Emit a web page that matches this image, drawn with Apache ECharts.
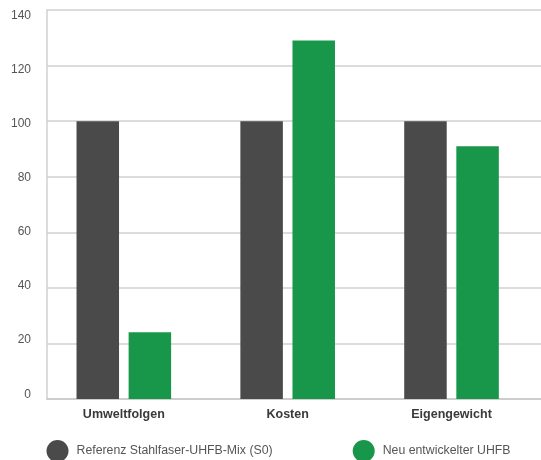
<!DOCTYPE html>
<html>
<head>
<meta charset="utf-8">
<style>
html,body{margin:0;padding:0;background:#fff;}
#chart{width:541px;height:460px;}
</style>
<script src="https://cdn.jsdelivr.net/npm/echarts@6/dist/echarts.min.js"></script>
</head>
<body>
<div id="chart"></div>
<script>
const categories = ['Umweltfolgen', 'Kosten', 'Eigengewicht'];
const seriesNames = ['Referenz Stahlfaser-UHFB-Mix (S0)', 'Neu entwickelter UHFB'];
const referenzValues = [100, 100, 100];
const neuValues = [24, 129, 91];
const yTicks = { min: 0, max: 140, interval: 20 };

const FONT = "'Liberation Sans', Arial, Helvetica, sans-serif";
const DARK = '#4a4a4a';
const GREEN = '#18974a';
const LINE = '#d0d0d0';

const chart = echarts.init(document.getElementById('chart'), null, { renderer: 'canvas' });

const hiddenX = (gi) => ({ type: 'category', gridIndex: gi, data: categories, show: false });

chart.setOption({
  animation: false,
  backgroundColor: '#ffffff',
  textStyle: { fontFamily: FONT },
  grid: [
    { left: 47, right: 0, top: 10, bottom: 61 },        // lines
    { left: 41.9, right: 7.55, top: 10, bottom: 61 },   // bars
    { left: 47, right: 0, top: 15.3, bottom: 65.7 }     // y labels
  ],
  xAxis: [
    {
      type: 'category', gridIndex: 0, data: categories,
      axisLine: { show: true, lineStyle: { color: '#c8c8c8', width: 1.5 } },
      axisTick: { show: false }, axisLabel: { show: false }, splitLine: { show: false }
    },
    {
      type: 'category', gridIndex: 1, data: categories,
      axisLine: { show: false }, axisTick: { show: false },
      axisLabel: { show: true, margin: 9, color: '#3a3a3a', fontWeight: 'bold', fontSize: 12.5, fontFamily: FONT }
    },
    hiddenX(2)
  ],
  yAxis: [
    {
      type: 'value', gridIndex: 0, min: yTicks.min, max: yTicks.max, interval: yTicks.interval,
      axisLine: { show: true, lineStyle: { color: LINE, width: 1.5 } },
      axisTick: { show: false }, axisLabel: { show: false },
      splitLine: { show: true, lineStyle: { color: LINE, width: 1.5 } }
    },
    {
      type: 'value', gridIndex: 1, min: yTicks.min, max: yTicks.max, interval: yTicks.interval,
      show: false, splitLine: { show: false }
    },
    {
      type: 'value', gridIndex: 2, min: yTicks.min, max: yTicks.max, interval: yTicks.interval,
      axisLine: { show: false }, axisTick: { show: false }, splitLine: { show: false },
      axisLabel: { show: true, margin: 16, color: '#555555', fontSize: 12, fontFamily: FONT }
    }
  ],
  legend: [
    {
      left: 46.5, top: 440, padding: 0, itemWidth: 22, itemHeight: 22, icon: 'circle',
      data: [seriesNames[0]],
      textStyle: { color: '#555555', fontSize: 12.3, fontFamily: FONT, padding: [0, 0, 0, 3] }
    },
    {
      left: 352.7, top: 440, padding: 0, itemWidth: 22, itemHeight: 22, icon: 'circle',
      data: [seriesNames[1]],
      textStyle: { color: '#555555', fontSize: 12.3, fontFamily: FONT, padding: [0, 0, 0, 3] }
    }
  ],
  series: [
    {
      name: seriesNames[0], type: 'bar', xAxisIndex: 1, yAxisIndex: 1,
      data: referenzValues, barWidth: 42.5, barGap: '22.6%',
      itemStyle: { color: DARK }, z: 5
    },
    {
      name: seriesNames[1], type: 'bar', xAxisIndex: 1, yAxisIndex: 1,
      data: neuValues, barWidth: 42.5, barGap: '22.6%',
      itemStyle: { color: GREEN }, z: 5
    }
  ]
});
</script>
</body>
</html>
